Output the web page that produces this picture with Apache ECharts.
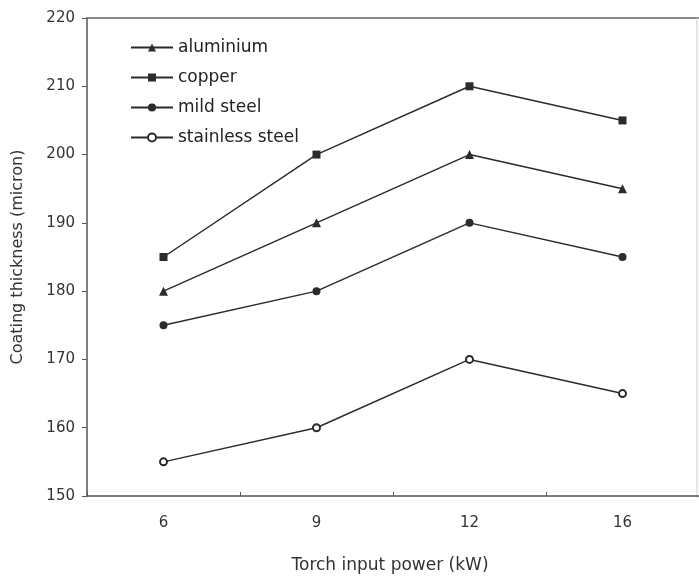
<!DOCTYPE html>
<html><head><meta charset="utf-8">
<script src="https://cdn.jsdelivr.net/npm/echarts@6/dist/echarts.min.js"></script>
<style>html,body{margin:0;padding:0;background:#fff}#c{width:699px;height:579px}</style>
</head><body><div id="c"></div>
<script>
const categories = ['6', '9', '12', '16'];
const aluminium = [180, 190, 200, 195];
const copper = [185, 200, 210, 205];
const mildSteel = [175, 180, 190, 185];
const stainlessSteel = [155, 160, 170, 165];
const yTicks = [150, 160, 170, 180, 190, 200, 210, 220];

const chart = echarts.init(document.getElementById('c'));
const font = 'DejaVu Sans, Liberation Sans, sans-serif';
const lineColor = '#2b2b2b';
function mk(name, data, symbol, size) {
  return {
    name: name, type: 'line', data: data, symbol: symbol, symbolSize: size,
    lineStyle: { color: lineColor, width: 1.5 },
    itemStyle: { color: lineColor, borderWidth: 1.2 },
    emphasis: { disabled: true }, animation: false
  };
}
chart.setOption({
  animation: false,
  grid: { left: 87, right: -10, top: 18, bottom: 81 },
  legend: {
    orient: 'vertical', left: 125, top: 34, itemWidth: 42, itemHeight: 10, itemGap: 13,
    textStyle: { fontFamily: font, fontSize: 17, color: '#222' },
    data: ['aluminium', 'copper', 'mild steel', 'stainless steel']
  },
  xAxis: {
    type: 'category', data: categories, boundaryGap: true,
    name: 'Torch input power (kW)', nameLocation: 'middle', nameGap: 61,
    nameTextStyle: { fontFamily: font, fontSize: 17, color: '#333', padding: [0, 0, 0, -6] },
    axisLine: { lineStyle: { color: '#555', width: 1.5 } },
    axisTick: { show: true, inside: true, length: 4, lineStyle: { color: '#555' } },
    axisLabel: { fontFamily: font, fontSize: 15, color: '#333', margin: 20 }
  },
  yAxis: {
    type: 'value', min: yTicks[0], max: yTicks[yTicks.length - 1], interval: 10,
    name: 'Coating thickness (micron)', nameLocation: 'middle', nameGap: 61, nameRotate: 90,
    nameTextStyle: { fontFamily: font, fontSize: 16, color: '#333' },
    axisLine: { show: true, lineStyle: { color: '#555', width: 1.5 } },
    axisTick: { show: true, length: 5, lineStyle: { color: '#555' } },
    axisLabel: { fontFamily: font, fontSize: 15, color: '#333', margin: 12 },
    splitLine: { show: false }
  },
  graphic: [
    { type: 'line', shape: { x1: 87, y1: 18, x2: 699, y2: 18 }, style: { stroke: '#666', lineWidth: 1.5 } },
    { type: 'line', shape: { x1: 697, y1: 18, x2: 697, y2: 498 }, style: { stroke: '#ccc', lineWidth: 1 } }
  ],
  series: [
    mk('aluminium', aluminium, 'triangle', 9),
    mk('copper', copper, 'rect', 8),
    mk('mild steel', mildSteel, 'circle', 8),
    mk('stainless steel', stainlessSteel, 'emptyCircle', 7)
  ]
});
</script></body></html>
